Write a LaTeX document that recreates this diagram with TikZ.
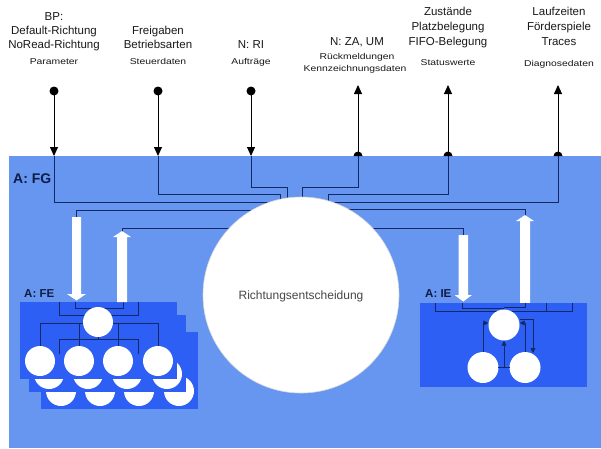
\documentclass[tikz,border=0pt]{standalone}
\usepackage{fontspec}
\setmainfont{Liberation Sans}
\newfontfamily\smallfnt[FakeStretch=1.22]{Liberation Sans}
\usetikzlibrary{arrows.meta,calc}
\definecolor{bgblue}{RGB}{102,150,240}
\definecolor{boxblue}{RGB}{45,95,245}
\definecolor{navy}{RGB}{20,40,100}
\definecolor{txt}{RGB}{25,25,25}
\tikzset{
  lbl/.style={font=\fontsize{11.5}{13}\selectfont, text=txt, inner sep=0pt, anchor=base},
  sml/.style={font=\smallfnt\fontsize{8.5}{9.5}\selectfont, text=txt, inner sep=0pt, anchor=base},
  area/.style={font=\bfseries\fontsize{11.5}{13}\selectfont, text=navy!70!black, inner sep=0pt, anchor=base west},
  ext/.style={draw=black, line width=0.9pt},
  inl/.style={draw=navy, line width=1pt},
  thin/.style={draw=navy, line width=0.7pt},
  wcirc/.style={circle, fill=white, draw=none, inner sep=0pt, minimum size=30pt},
  boxfill/.style={fill=boxblue},
  whitearrow/.style={fill=white, draw=none},
  tip/.style={-{Triangle[width=8pt,length=9pt]}},
  stip/.style={-{Triangle[width=5pt,length=5pt]}}
}
\newcommand{\fecontent}{%
  \fill[boxfill] (0,0) rectangle (157,77);
  \draw[thin] (39,0) -- (39,13) -- (118,13) -- (118,0);
  \draw[thin] (55,0) -- (55,6) -- (103,6) -- (103,0);
  \draw[thin] (20,59) -- (20,21) -- (138,21) -- (138,59);
  \draw[thin] (59,59) -- (59,21);
  \draw[thin] (98,59) -- (98,21);
  \draw[thin] (39,52) -- (39,37) -- (118,37) -- (118,52);
  \draw[thin] (78,37) -- (78,30);
  \node[wcirc] at (78,20) {};
  \foreach \cx in {20,59,98,138} { \node[wcirc] at (\cx,59) {}; }
}
\begin{document}
\begin{tikzpicture}[x=1pt,y=-1pt]
\useasboundingbox (0,0) rectangle (601,448);
\fill[white] (0,0) rectangle (601,448);
\fill[bgblue] (9,156) rectangle (601,448);

% ---- top labels
\node[lbl] (t1a) at (54,20) {BP:};
\node[lbl] (t1b) at (54,34) {Default-Richtung};
\node[lbl] (t1c) at (54,48) {NoRead-Richtung};
\node[sml] (t1d) at (54,64) {Parameter};

\node[lbl] (t2a) at (158,34) {Freigaben};
\node[lbl] (t2b) at (158,48) {Betriebsarten};
\node[sml] (t2c) at (158,64) {Steuerdaten};

\node[lbl] (t3a) at (251,48) {N: RI};
\node[sml] (t3b) at (251,64) {Aufträge};

\node[lbl] (t4a) at (357,45) {N: ZA, UM};
\node[sml] (t4b) at (357,59.5) {Rückmeldungen};
\node[sml] (t4c) at (355,71.5) {Kennzeichnungsdaten};

\node[lbl] (t5a) at (448,15) {Zustände};
\node[lbl] (t5b) at (448,30) {Platzbelegung};
\node[lbl] (t5c) at (448,45) {FIFO-Belegung};
\node[sml] (t5d) at (448,65) {Statuswerte};

\node[lbl] (t6a) at (559,15) {Laufzeiten};
\node[lbl] (t6b) at (559,30) {Förderspiele};
\node[lbl] (t6c) at (559,45) {Traces};
\node[sml] (t6d) at (559,66) {Diagnosedaten};

% ---- ports
\foreach \n/\x in {1/54,2/158,3/251} {
  \coordinate (d\n) at (\x,91);
  \coordinate (p\n) at (\x,156);
}
\foreach \n/\x in {4/358,5/448,6/558} {
  \coordinate (u\n) at (\x,85);
  \coordinate (p\n) at (\x,156);
}

% ---- area labels
\node[area, font=\bfseries\fontsize{14}{16}\selectfont] (fg) at (13,183) {A: FG};
\node[area] (fe) at (24,297) {A: FE};
\node[area] (ie) at (425,297) {A: IE};

% ---- inner connectors (behind circle)
\coordinate (c) at (301,295);
\draw[inl] (p1) -- (54,202) -- (301,202);
\draw[inl] (p2) -- (158,194) -- (280,194) -- (280,260);
\draw[inl] (p3) -- (251,187) -- (287,187) -- (287,260);
\draw[inl] (p4) -- (358,187) -- (302,187) -- (302,260);
\draw[inl] (p5) -- (448,194) -- (328,194) -- (328,260);
\draw[inl] (p6) -- (558,202) -- (301,202);
\draw[inl] (76,217) -- (76,210) -- (c |- 0,210);
\draw[inl] (122,232) -- (122,228) -- (c |- 0,228);
\draw[inl] (463,235) -- (463,228) -- (c |- 0,228);
\draw[inl] (525,217) -- (525,209) -- (c |- 0,209);

% ---- external arrows
\foreach \n in {1,2,3} {
  \fill (d\n) circle (4.5);
  \draw[ext, tip] (d\n) -- (p\n);
}
\foreach \n in {4,5,6} {
  \fill ($(p\n)+(-4.5,0)$) arc[start angle=180, end angle=360, radius=4.5] -- cycle;
  \draw[ext, tip] (p\n) -- (u\n);
}

% ---- central circle
\node[circle, fill=white, draw=gray!30, line width=0.6pt, minimum size=196pt, inner sep=0pt] (rc) at (c) {};
\node[font=\fontsize{12}{14}\selectfont, text=txt!80] (rct) at (301,296) {Richtungsentscheidung};

% ---- FE stack
\begin{scope}[shift={(41,332)}] \fecontent \end{scope}
\begin{scope}[shift={(29,315)}] \fecontent \end{scope}
\begin{scope}[shift={(20,302)}] \fecontent \end{scope}

% ---- white arrows
\fill[whitearrow] (72,217) -- (81,217) -- (81,294) -- (86,294) -- (76.5,300.5) -- (67,294) -- (72,294) -- cycle;
\fill[whitearrow] (117,302) -- (127,302) -- (127,237) -- (131,237) -- (122,231) -- (113,237) -- (117,237) -- cycle;
\fill[whitearrow] (458.5,235) -- (468,235) -- (468,295) -- (472,295) -- (463.25,301.5) -- (454.5,295) -- (458.5,295) -- cycle;
\fill[whitearrow] (520,303) -- (530,303) -- (530,221) -- (534,221) -- (525,215) -- (516,221) -- (520,221) -- cycle;

% ---- IE
\fill[boxfill] (420,303) rectangle (587,387);
\draw[thin] (435,303) -- (435,311) -- (572,311) -- (572,303);
\draw[thin] (546,303) -- (546,311);
\draw[thin] (462,303) -- (462,308) -- (504,308);
\draw[thin] (525,303) -- (525,307) -- (504,307);
\draw[thin] (483,367) -- (525,367);
\node[wcirc, minimum size=31pt] (it) at (504,325) {};
\node[wcirc, minimum size=31pt] (il) at (483,367.5) {};
\node[wcirc, minimum size=31pt] (ir) at (525,367.5) {};
\draw[thin] (498,367) -- (510,367);
\draw[thin, stip] (504,367) -- (it.south);
\draw[thin, stip] (il.north) -- (483,323) -- (it.west |- 0,323);
\draw[thin, stip] (ir.north) -- (525,323) -- (it.east |- 0,323);
\draw[thin, stip] (it.east |- 0,319) -- (533,319) -- (533,353);
\end{tikzpicture}
\end{document}
